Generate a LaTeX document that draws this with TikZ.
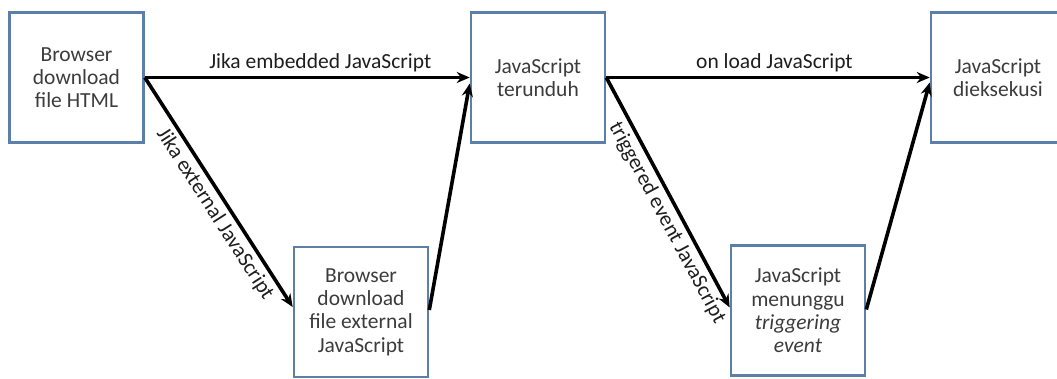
\documentclass[tikz,border=0pt]{standalone}
\usepackage{fontspec}
\setmainfont{Carlito}
\usetikzlibrary{arrows.meta}
\definecolor{boxblue}{HTML}{5B7FA8}
\definecolor{boxtext}{HTML}{3C3C3C}
\definecolor{lbltext}{HTML}{1E1E1E}
\begin{document}
\begin{tikzpicture}[x=1pt,y=-1pt,
  stepbox/.style={draw=boxblue, line width=2.6pt, fill=white, text=boxtext,
    align=center, inner sep=0pt, minimum width=134pt, minimum height=130pt,
    font=\fontsize{21.5}{23.3}\selectfont},
  flow/.style={line width=3.6pt, draw=black, -{Stealth[length=13pt,width=11pt]}},
  lbl/.style={font=\fontsize{21.5}{23}\selectfont, text=lbltext, inner sep=2pt}]
\useasboundingbox (0,0) rectangle (1057,378);

% process steps
\node[stepbox] (html) at (76.5,77.5) {Browser\\download\\file HTML};
\node[stepbox] (js)   at (538,77.5)  {JavaScript\\terunduh};
\node[stepbox] (exec) at (998,77.5)  {JavaScript\\dieksekusi};
\node[stepbox] (ext)  at (361,312)   {Browser\\download\\file external\\JavaScript};
\node[stepbox] (wait) at (798,310.5) {JavaScript\\menunggu\\\textit{triggering}\\\textit{event}};

% transitions
\draw[flow] (html.east) -- node[lbl, pos=0.54, above=2pt] {Jika embedded JavaScript} (js.west);
\draw[flow] (html.east) -- node[lbl, pos=0.56, below=2pt, sloped] {Jika external JavaScript} ([yshift=5pt]ext.west);
\draw[flow] ([yshift=2pt]ext.east) -- ([yshift=-6pt]js.west);

\draw[flow] (js.east) -- node[lbl, pos=0.52, above=2pt] {on load JavaScript} (exec.west);
\draw[flow] (js.east) -- node[lbl, pos=0.6, below=2pt, sloped] {triggered event JavaScript} ([yshift=3pt]wait.west);
\draw[flow] ([yshift=1pt]wait.east) -- ([yshift=-5pt]exec.west);
\end{tikzpicture}
\end{document}
